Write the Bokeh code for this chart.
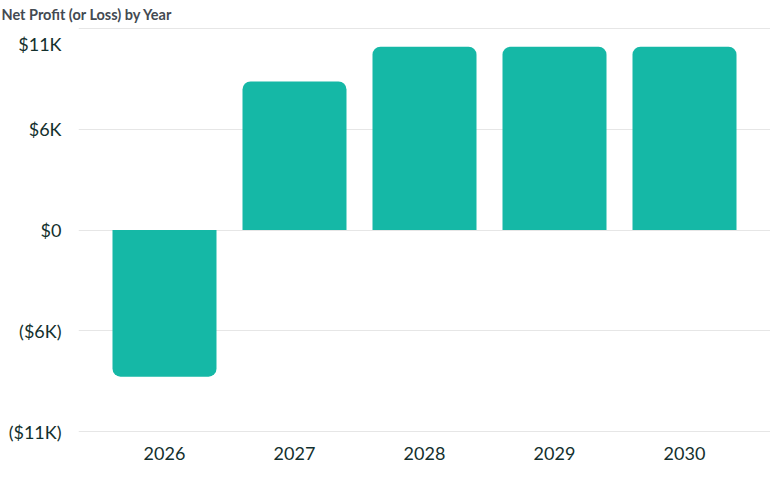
from bokeh.embed import file_html
from bokeh.resources import INLINE
from bokeh.models import ColumnDataSource, FactorRange, FixedTicker, Title, CDSView, BooleanFilter
from bokeh.plotting import figure

# Chart data
years = ["2026", "2027", "2028", "2029", "2030"]
net_profit = [-8000, 8100, 10000, 10000, 10000]

# Axis ticks / labels
grid_ticks = [-11000, -5500, 0, 5500, 11000]
label_ticks = [-11000, -5500, 0, 5500, 10150]
tick_labels = ["($11K)", "($6K)", "$0", "$6K", "$11K"]

BAR = "#15b8a6"
FONT = "Lato"

source = ColumnDataSource(data=dict(year=years, value=net_profit))
pos_view = CDSView(filter=BooleanFilter([v >= 0 for v in net_profit]))
neg_view = CDSView(filter=BooleanFilter([v < 0 for v in net_profit]))

p = figure(width=770, height=477,
           x_range=FactorRange(factors=years, range_padding=0.0646),
           y_range=(-11100, 11100),
           output_backend="svg", toolbar_location=None, tools="",
           min_border_left=78, min_border_right=0, min_border_top=26,
           min_border_bottom=44)
p.outline_line_color = None

# Title in the top-left corner
p.add_layout(Title(text="Net Profit (or Loss) by Year", align="left",
                   vertical_align="top",
                   text_font=FONT, text_font_size="14.5px",
                   text_font_style="bold", text_color="#434a52",
                   offset=-77, standoff=4), "above")

# Bars: rounded ends away from the zero line
p.vbar(x="year", top="value", bottom=0, width=0.8, source=source, view=pos_view,
       fill_color=BAR, line_color=None, border_radius=(8, 8, 0, 0))
p.vbar(x="year", top=0, bottom="value", width=0.8, source=source, view=neg_view,
       fill_color=BAR, line_color=None, border_radius=(0, 0, 8, 8))

# Y axis
p.yaxis.ticker = FixedTicker(ticks=label_ticks)
p.yaxis.major_label_overrides = {t: l for t, l in zip(label_ticks, tick_labels)}
p.yaxis.axis_line_color = None
p.yaxis.major_tick_line_color = None
p.yaxis.minor_tick_line_color = None
p.yaxis.major_label_text_font = FONT
p.yaxis.major_label_text_font_size = "18px"
p.yaxis.major_label_text_color = "#13302d"
p.yaxis.major_label_standoff = 11

# X axis
p.xaxis.axis_line_color = None
p.xaxis.major_tick_line_color = None
p.xaxis.minor_tick_line_color = None
p.xaxis.major_label_text_font = FONT
p.xaxis.major_label_text_font_size = "18px"
p.xaxis.major_label_text_color = "#13302d"
p.xaxis.major_label_standoff = 7

# Grid
p.xgrid.grid_line_color = None
p.ygrid.ticker = FixedTicker(ticks=grid_ticks)
p.ygrid.grid_line_color = "#e6e6e6"
p.ygrid.grid_line_width = 1

open("out.html", "w").write(file_html(p, INLINE))
